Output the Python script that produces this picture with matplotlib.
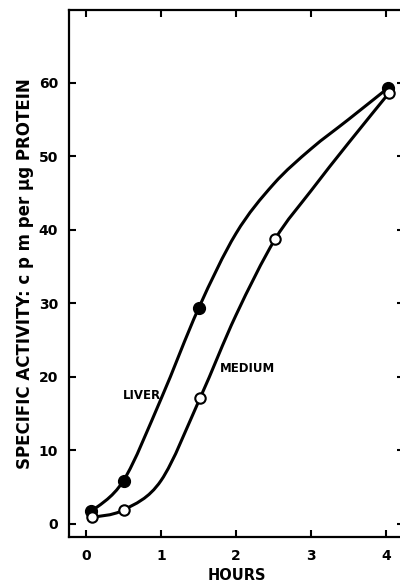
#!/usr/bin/env python3

"""Specific activity of liver and medium protein against time."""

import matplotlib
matplotlib.use('Agg')
import matplotlib.pyplot as plt
from matplotlib.path import Path
from matplotlib.patches import PathPatch

# measured points
liver_hours = [0.07, 0.5, 1.5, 4.03]
liver_activity = [1.7, 5.9, 29.3, 59.3]
medium_hours = [0.08, 0.5, 1.52, 2.52, 4.04]
medium_activity = [0.9, 1.9, 17.1, 38.7, 58.6]

# hand drawn curves
liver_curve_x = [0.07, 0.5, 1.0, 1.5, 2.0, 2.5, 3.0, 3.5, 4.03]
liver_curve_y = [1.7, 5.9, 17.0, 29.3, 39.5, 46.2, 51.0, 55.0, 59.3]
medium_curve_x = [0.08, 0.5, 1.0, 1.52, 2.0, 2.52, 3.0, 3.5, 4.04]
medium_curve_y = [0.9, 1.9, 5.9, 17.1, 28.4, 38.7, 45.3, 51.8, 58.6]

x_ticks = [0, 1, 2, 3, 4]
x_labels = ['0', '1', '2', '3', '4']
y_ticks = [0, 10, 20, 30, 40, 50, 60]
y_labels = ['0', '10', '20', '30', '40', '50', '60']


def smooth_path(xs, ys):
    """Catmull-Rom through the traced points, as a bezier path."""
    pts = list(zip(xs, ys))
    pts = [pts[0]] + pts + [pts[-1]]
    verts = [pts[1]]
    codes = [Path.MOVETO]
    for i in range(1, len(pts) - 2):
        p0, p1, p2, p3 = pts[i - 1], pts[i], pts[i + 1], pts[i + 2]
        c1 = (p1[0] + (p2[0] - p0[0]) / 6, p1[1] + (p2[1] - p0[1]) / 6)
        c2 = (p2[0] - (p3[0] - p1[0]) / 6, p2[1] - (p3[1] - p1[1]) / 6)
        verts += [c1, c2, p2]
        codes += [Path.CURVE4] * 3
    return Path(verts, codes)


plt.rc('font', family='DejaVu Sans', weight='bold')
plt.rc('axes', labelweight='bold')
fig = plt.figure(figsize=(4.0, 5.87), dpi=100)
ax = fig.add_axes([0.1725, 0.0852, 0.8375, 0.898])

for cx, cy in ((liver_curve_x, liver_curve_y), (medium_curve_x, medium_curve_y)):
    ax.add_patch(PathPatch(smooth_path(cx, cy), facecolor='none',
                           edgecolor='black', linewidth=2.2, zorder=2))

ax.plot(liver_hours, liver_activity, linestyle='none', marker='o',
        markersize=8.5, markerfacecolor='black', markeredgecolor='black', zorder=3)
ax.plot(medium_hours, medium_activity, linestyle='none', marker='o',
        markersize=7.5, markerfacecolor='white', markeredgecolor='black',
        markeredgewidth=1.5, zorder=3)

ax.text(0.75, 17.5, 'LIVER', ha='center', va='center', fontsize=8.5)
ax.text(2.15, 21.1, 'MEDIUM', ha='center', va='center', fontsize=8.5)

ax.set_xlim(-0.227, 4.24)
ax.set_ylim(-1.77, 69.9)
ax.set_xticks(x_ticks, x_labels)
ax.set_yticks(y_ticks, y_labels)
ax.tick_params(direction='in', length=5, width=1.5, labelsize=10,
               top=True, right=True)
ax.tick_params(axis='x', pad=9)
ax.tick_params(axis='y', pad=8)
for side in ('left', 'bottom', 'top'):
    ax.spines[side].set_linewidth(1.6)
ax.spines['right'].set_visible(False)

ax.set_xlabel('HOURS', fontsize=10.5, labelpad=3)
ax.set_ylabel('SPECIFIC ACTIVITY: c p m per μg PROTEIN', fontsize=12,
              labelpad=3)

plt.savefig('out.png', dpi=100)
